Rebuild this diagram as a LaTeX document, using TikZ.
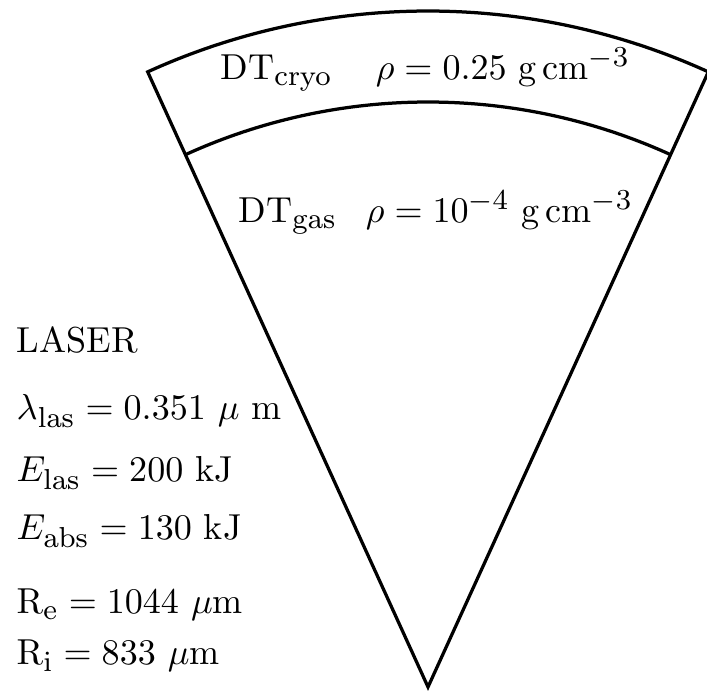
\documentclass[tikz,border=0pt]{standalone}
\usepackage{amsmath,amssymb}
\usepackage{tikz}
\usetikzlibrary{positioning,calc}
\DeclareMathSizes{10}{10}{8}{6}

\begin{document}
\begin{tikzpicture}[
  x=0.277pt, y=0.277pt,
  shell/.style={line width=0.9pt, line join=miter},
  lbl/.style={anchor=base west, inner sep=0pt, font=\normalsize}
]
  \useasboundingbox (0,0) rectangle (707,692);
  \coordinate (apex) at (428,5);

  % target sector: outer ice shell and gas region
  \draw[shell] (apex) -- ++(114.5:676) coordinate (outl)
    arc[start angle=114.5, end angle=65.5, radius=676] coordinate (outr)
    -- cycle;
  \draw[shell] ($(apex)+(114.5:585)$) coordinate (inl)
    arc[start angle=114.5, end angle=65.5, radius=585] coordinate (inr);

  \node[lbl] (cryo) at (220,612)
    {DT$_{\rm cryo}$\hspace{12pt}$\rho = 0.25$ g\,cm$^{-3}$};
  \node[lbl] (gas) at (238,469)
    {DT$_{\rm gas}$\hspace{8pt}$\rho = 10^{-4}$ g\,cm$^{-3}$};

  % laser parameters
  \node[lbl] (laser) at (16,339) {LASER};
  \node[lbl] (lambda) at (16,272) {$\lambda_{\rm las} = 0.351$ $\mu$ m};
  \node[lbl] (elas) at (16,210) {$E_{\rm las} = 200$ kJ};
  \node[lbl] (eabs) at (16,152) {$E_{\rm abs} = 130$ kJ};
  \node[lbl] (rext) at (16,78) {$\mathrm{R_e} = 1044$ $\mu$m};
  \node[lbl] (rint) at (16,27) {$\mathrm{R_i} = 833$ $\mu$m};
\end{tikzpicture}
\end{document}
